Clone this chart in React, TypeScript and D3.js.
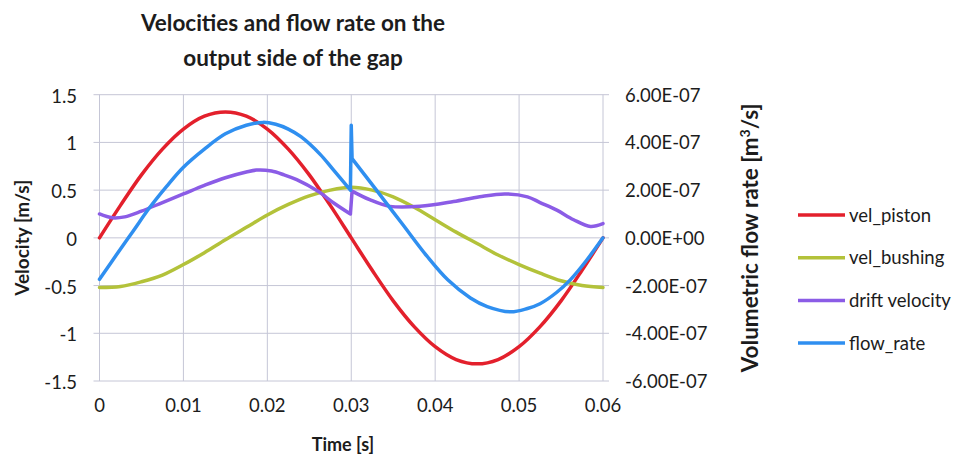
import React from "react";
import * as d3 from "d3";

// time axis samples [s]
const tPiston = [
  0, 0.0025, 0.005, 0.0075, 0.01, 0.0125, 0.015, 0.0175, 0.02, 0.0225, 0.025, 0.0275, 0.03,
  0.0325, 0.035, 0.0375, 0.04, 0.0425, 0.045, 0.0475, 0.05, 0.0525, 0.055, 0.0575, 0.06,
];
const velPiston = [
  0, 0.34, 0.66, 0.93, 1.14, 1.275, 1.32, 1.275, 1.14, 0.93, 0.66, 0.34, 0,
  -0.34, -0.66, -0.93, -1.14, -1.275, -1.32, -1.275, -1.14, -0.93, -0.66, -0.34, 0,
];
const velBushing = [
  -0.52, -0.51, -0.46, -0.39, -0.28, -0.155, -0.02, 0.11, 0.24, 0.35, 0.44, 0.5, 0.53,
  0.5, 0.43, 0.32, 0.19, 0.06, -0.06, -0.18, -0.28, -0.37, -0.45, -0.5, -0.52,
];

const tDrift = [
  0, 0.0015, 0.003, 0.005, 0.0075, 0.01, 0.0125, 0.015, 0.0175, 0.0187, 0.0205, 0.022, 0.0235,
  0.026, 0.028, 0.0299, 0.0301, 0.0322, 0.0346, 0.0382, 0.0422, 0.0453, 0.0483, 0.051,
  0.0525, 0.0545, 0.0565, 0.0585, 0.06,
];
const driftVelocity = [
  0.25, 0.21, 0.22, 0.28, 0.37, 0.46, 0.55, 0.63, 0.69, 0.71, 0.7, 0.66, 0.61,
  0.49, 0.36, 0.25, 0.49, 0.4, 0.33, 0.33, 0.38, 0.43, 0.46, 0.43,
  0.37, 0.29, 0.19, 0.12, 0.15,
];

const tFlow = [
  0, 0.002, 0.004, 0.006, 0.008, 0.01, 0.0125, 0.015, 0.0175, 0.0195, 0.021, 0.0225, 0.024,
  0.0263, 0.0278, 0.0299, 0.03, 0.0301, 0.033, 0.036, 0.039, 0.0415, 0.0442, 0.0462,
  0.049, 0.051, 0.0525, 0.0545, 0.0561, 0.058, 0.06,
];
const flowRate = [
  -1.74e-7, -0.72e-7, 0.28e-7, 1.28e-7, 2.16e-7, 2.96e-7, 3.72e-7, 4.36e-7, 4.72e-7, 4.84e-7,
  4.76e-7, 4.56e-7, 4.24e-7, 3.5e-7, 2.88e-7, 2.0e-7, 4.72e-7, 3.32e-7, 2.0e-7, 0.62e-7,
  -0.76e-7, -1.76e-7, -2.52e-7, -2.88e-7, -3.1e-7, -2.96e-7, -2.76e-7, -2.28e-7,
  -1.76e-7, -0.96e-7, 0,
];

const xTicks = [0, 0.01, 0.02, 0.03, 0.04, 0.05, 0.06];
const yTicks = [-1.5, -1, -0.5, 0, 0.5, 1, 1.5];
const y2Ticks = [-6e-7, -4e-7, -2e-7, 0, 2e-7, 4e-7, 6e-7];

const legendNames = ["vel_piston", "vel_bushing", "drift velocity", "flow_rate"];
const colors = ["#e3202c", "#b3c23a", "#8b5ce6", "#2f8ff0"];

const W = 974;
const H = 463;
const FONT = "Lato, 'Open Sans', sans-serif";
const INK = "#1c1c1c";

type P = [number, number];

export default function App() {
  const x = d3.scaleLinear().domain([0, 0.06]).range([99.5, 603]);
  const y = d3.scaleLinear().domain([-1.5, 1.5]).range([381, 94.7]);
  const y2 = d3.scaleLinear().domain([-6e-7, 6e-7]).range([381, 94.7]);

  // smooth runs, with near-vertical jumps drawn straight
  const buildPath = (pts: P[], ys: (v: number) => number) => {
    const smooth = d3
      .line<P>()
      .x((d) => x(d[0]))
      .y((d) => ys(d[1]))
      .curve(d3.curveCatmullRom.alpha(0.5));
    const straight = d3
      .line<P>()
      .x((d) => x(d[0]))
      .y((d) => ys(d[1]));
    let d = "";
    let run: P[] = [pts[0]];
    for (let i = 1; i < pts.length; i++) {
      if (pts[i][0] - pts[i - 1][0] < 0.0003) {
        if (run.length > 1) d += smooth(run) || "";
        d += straight([pts[i - 1], pts[i]]) || "";
        run = [pts[i]];
      } else {
        run.push(pts[i]);
      }
    }
    if (run.length > 1) d += smooth(run) || "";
    return d;
  };

  const series = [
    buildPath(tPiston.map((t, i) => [t, velPiston[i]] as P), y),
    buildPath(tPiston.map((t, i) => [t, velBushing[i]] as P), y),
    buildPath(tDrift.map((t, i) => [t, driftVelocity[i]] as P), y),
    buildPath(tFlow.map((t, i) => [t, flowRate[i]] as P), y2),
  ];

  const fmtE = (v: number) => {
    if (v === 0) return "0.00E+00";
    const [m, e] = v.toExponential(2).toUpperCase().split("E");
    const n = parseInt(e, 10);
    return `${m}E${n < 0 ? "-" : "+"}${String(Math.abs(n)).padStart(2, "0")}`;
  };

  return (
    <div style={{ position: "absolute", left: 0, top: 0 }}>
      <svg width={W} height={H} style={{ display: "block", background: "#fff" }} fontFamily={FONT}>
        {/* title */}
        <text x={293} y={31} textAnchor="middle" fontSize={22.5} fontWeight="bold" fill={INK}>
          Velocities and flow rate on the
        </text>
        <text x={293} y={66} textAnchor="middle" fontSize={22.5} fontWeight="bold" fill={INK}>
          output side of the gap
        </text>

        {/* grid */}
        <g stroke="#c5c6d6" strokeWidth={1}>
          {yTicks.map((v) => (
            <line key={"gy" + v} x1={x(0) - 6} x2={x(0.06) + 6} y1={y(v)} y2={y(v)} />
          ))}
          {xTicks.map((v) => (
            <line key={"gx" + v} x1={x(v)} x2={x(v)} y1={y(1.5)} y2={y(-1.5)} />
          ))}
        </g>

        {/* left axis labels */}
        <g fontSize={18.5} fill={INK} textAnchor="end">
          {yTicks.map((v) => (
            <text key={"yl" + v} x={77} y={y(v) + 8}>
              {String(v)}
            </text>
          ))}
        </g>

        {/* right axis labels */}
        <g fontSize={18.5} fill={INK} textAnchor="start">
          {y2Ticks.map((v) => (
            <text key={"y2l" + v} x={625} y={y2(v) + 7}>
              {fmtE(v)}
            </text>
          ))}
        </g>

        {/* x axis labels */}
        <g fontSize={18.5} fill={INK} textAnchor="middle">
          {xTicks.map((v) => (
            <text key={"xl" + v} x={x(v)} y={412}>
              {String(v)}
            </text>
          ))}
        </g>

        {/* axis titles */}
        <text x={343} y={451} textAnchor="middle" fontSize={18} fontWeight="bold" fill={INK}>
          Time [s]
        </text>
        <text
          transform={`translate(29,${y(0)}) rotate(-90)`}
          textAnchor="middle"
          fontSize={19}
          fontWeight="bold"
          fill={INK}
        >
          Velocity [m/s]
        </text>
        <text
          transform={`translate(758,${y(0)}) rotate(-90)`}
          textAnchor="middle"
          fontSize={22.5}
          fontWeight="bold"
          fill={INK}
        >
          Volumetric flow rate [m
          <tspan baselineShift="super" fontSize={14}>3</tspan>
          /s]
        </text>

        {/* series */}
        {series.map((d, i) => (
          <path
            key={"s" + i}
            d={d}
            fill="none"
            stroke={colors[i]}
            strokeWidth={3.5}
            strokeLinejoin="round"
            strokeLinecap="round"
          />
        ))}

        {/* legend */}
        {legendNames.map((name, i) => {
          const ly = 215 + i * 42.7;
          return (
            <g key={"lg" + i}>
              <line x1={798} x2={845} y1={ly} y2={ly} stroke={colors[i]} strokeWidth={3.5} />
              <text x={849} y={ly + 6.5} fontSize={18.5} fill={INK}>
                {name}
              </text>
            </g>
          );
        })}
      </svg>
    </div>
  );
}
